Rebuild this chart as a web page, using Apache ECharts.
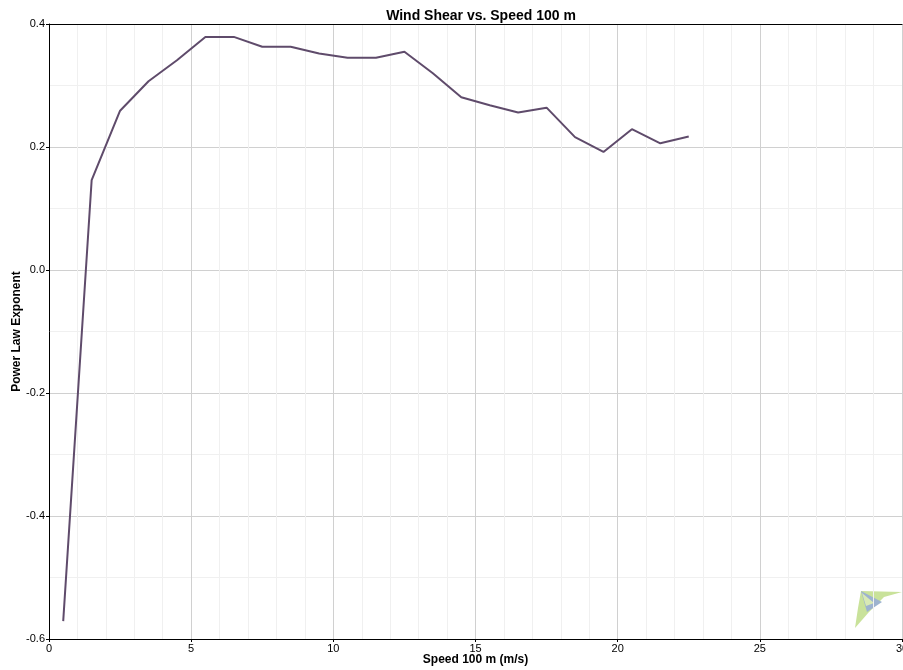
<!DOCTYPE html>
<html>
<head>
<meta charset="utf-8">
<script src="https://cdn.jsdelivr.net/npm/echarts@6/dist/echarts.min.js"></script>
<style>
  html, body { margin: 0; padding: 0; background: #fff; }
  #main { width: 903px; height: 670px; }
</style>
</head>
<body>
<div id="main"></div>
<script>
var speeds = [0.5, 1.5, 2.5, 3.5, 4.5, 5.5, 6.5, 7.5, 8.5, 9.5, 10.5, 11.5,
              12.5, 13.5, 14.5, 15.5, 16.5, 17.5, 18.5, 19.5, 20.5, 21.5, 22.5];
var exponents = [-0.571, 0.146, 0.259, 0.307, 0.341, 0.379, 0.379, 0.363, 0.363, 0.352, 0.345, 0.345,
                 0.355, 0.320, 0.281, 0.268, 0.256, 0.264, 0.216, 0.192, 0.229, 0.206, 0.217];

var points = speeds.map(function (s, i) { return [s, exponents[i]]; });

var font = 'Arial, "Liberation Sans", sans-serif';

var option = {
    backgroundColor: '#fff',
    animation: false,
    title: {
        text: 'Wind Shear vs. Speed 100 m',
        left: 476,
        textAlign: 'center',
        top: 4,
        textStyle: { fontFamily: font, fontSize: 14, fontWeight: 'bold', color: '#000' }
    },
    grid: { left: 49, top: 24, right: 1, bottom: 31, containLabel: false, outerBoundsMode: 'none' },
    xAxis: [
        {
            type: 'value',
            min: 0, max: 30, interval: 5,
            name: 'Speed 100 m (m/s)',
            nameLocation: 'middle',
            nameGap: 15,
            nameMoveOverlap: false,
            nameTextStyle: { fontFamily: font, fontSize: 12, fontWeight: 'bold', color: '#000' },
            axisLine: { show: true, onZero: false, lineStyle: { color: '#000', width: 1 } },
            axisTick: { show: true, length: 3, lineStyle: { color: '#000' } },
            axisLabel: { fontFamily: font, fontSize: 11, color: '#000', margin: 4 },
            splitLine: { show: true, lineStyle: { color: '#d0d0d0', width: 1 } },
            minorTick: { show: false, splitNumber: 5 },
            minorSplitLine: { show: true, lineStyle: { color: '#f0f0f0', width: 1 } }
        },
        {
            type: 'value',
            position: 'top',
            min: 0, max: 30,
            axisLine: { show: true, onZero: false, lineStyle: { color: '#000', width: 1 } },
            axisTick: { show: false },
            axisLabel: { show: false },
            splitLine: { show: false }
        }
    ],
    yAxis: {
        type: 'value',
        min: -0.6, max: 0.4, interval: 0.2,
        name: 'Power Law Exponent',
        nameLocation: 'middle',
        nameGap: 26,
        nameMoveOverlap: false,
        nameTextStyle: { fontFamily: font, fontSize: 12, fontWeight: 'bold', color: '#000' },
        axisLine: { show: true, onZero: false, lineStyle: { color: '#000', width: 1 } },
        axisTick: { show: true, length: 3, lineStyle: { color: '#000' } },
        axisLabel: {
            fontFamily: font, fontSize: 11, color: '#000', margin: 4,
            formatter: function (v) { return v.toFixed(1); }
        },
        splitLine: { show: true, lineStyle: { color: '#d0d0d0', width: 1 } },
        minorTick: { show: false, splitNumber: 2 },
        minorSplitLine: { show: true, lineStyle: { color: '#f0f0f0', width: 1 } }
    },
    series: [
        {
            name: 'Power Law Exponent',
            type: 'line',
            data: points,
            symbol: 'none',
            lineStyle: { color: '#5f4b6b', width: 2 }
        }
    ],
    graphic: [
        {
            type: 'polygon',
            shape: { points: [[861, 591], [902, 592], [884, 597], [869, 612], [855, 628], [858, 608]] },
            style: { fill: '#c9e29a' }
        },
        {
            type: 'polygon',
            shape: { points: [[861, 591], [882, 602], [867, 612]] },
            style: { fill: '#9db3cf' }
        },
        {
            type: 'polygon',
            shape: { points: [[862, 593], [874, 603], [866, 606]] },
            style: { fill: '#d8eab5' }
        }
    ]
};

echarts.init(document.getElementById('main')).setOption(option);
</script>
</body>
</html>
